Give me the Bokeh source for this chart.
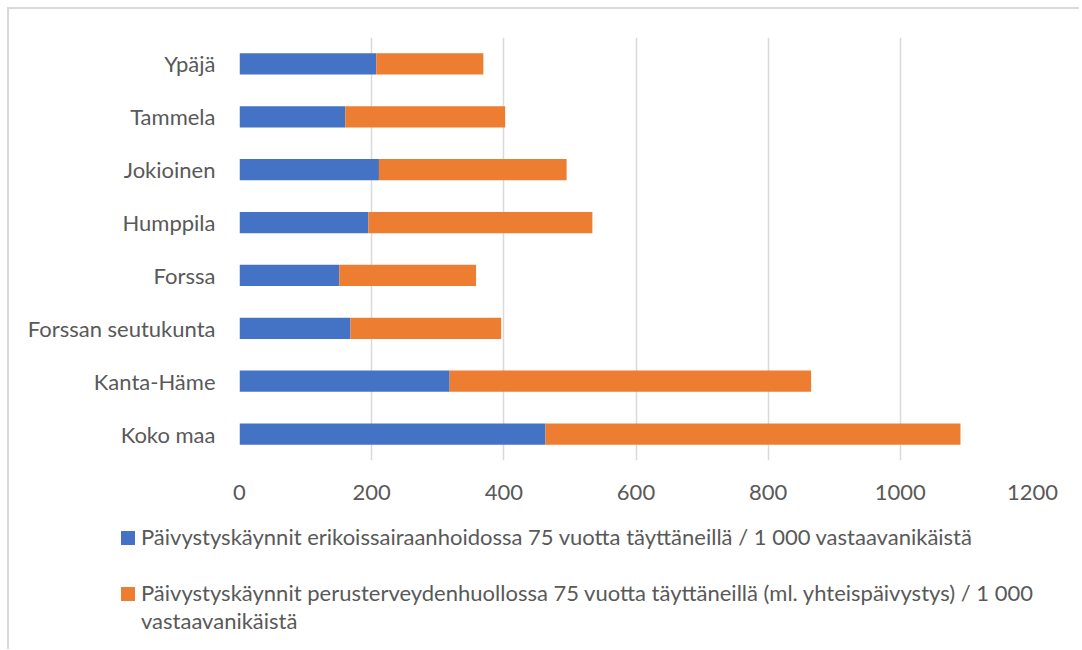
from bokeh.plotting import figure
from bokeh.models import FactorRange, Range1d, ColumnDataSource, FixedTicker, Div
from bokeh.layouts import column
from bokeh.embed import file_html
from bokeh.resources import INLINE

categories = ["Ypäjä", "Tammela", "Jokioinen", "Humppila", "Forssa",
              "Forssan seutukunta", "Kanta-Häme", "Koko maa"]
erikois = [207, 160, 211, 195, 151, 168, 318, 463]
perus = [162, 242, 284, 339, 207, 228, 547, 628]
x_ticks = [0, 200, 400, 600, 800, 1000, 1200]
series_labels = [
    "Päivystyskäynnit erikoissairaanhoidossa 75 vuotta täyttäneillä / 1 000 vastaavanikäistä",
    "Päivystyskäynnit perusterveydenhuollossa 75 vuotta täyttäneillä (ml. yhteispäivystys) / 1 000<br>vastaavanikäistä",
]
colors = ["#4472C4", "#ED7D31"]

FONT = "Lato"
FS = "22px"
TXT = "#595959"
GRID = "#d9d9d9"

src = ColumnDataSource(dict(cat=categories, erikois=erikois, perus=perus))

p = figure(
    y_range=FactorRange(factors=list(reversed(categories)), range_padding=0),
    x_range=Range1d(0, 1200),
    width=1060, height=500,
    output_backend="svg", toolbar_location=None,
    min_border_left=230, min_border_right=37,
    min_border_top=28, min_border_bottom=49,
)
p.outline_line_color = None
p.hbar_stack(["erikois", "perus"], y="cat", height=0.4, color=colors,
             source=src, line_color=None)

p.xaxis.ticker = FixedTicker(ticks=x_ticks)
p.xaxis.axis_line_color = None
p.xaxis.major_tick_line_color = None
p.xaxis.minor_tick_line_color = None
p.xaxis.major_tick_out = 0
p.xaxis.major_tick_in = 0
p.xaxis.major_label_standoff = 24
p.yaxis.axis_line_color = None
p.yaxis.major_tick_line_color = None
p.yaxis.minor_tick_line_color = None
p.yaxis.major_tick_out = 0
p.yaxis.major_tick_in = 0
p.yaxis.major_label_standoff = 24
for ax in (p.xaxis, p.yaxis):
    ax.major_label_text_font = FONT
    ax.major_label_text_font_size = FS
    ax.major_label_text_color = TXT
p.ygrid.grid_line_color = None
p.xgrid.grid_line_color = GRID
p.xgrid.grid_line_width = 1.5

legend_html = (
    f'<div style="position:relative;width:1060px;height:130px;font-family:{FONT};'
    f'font-size:{FS};color:{TXT};line-height:28px;">'
    f'<div style="position:absolute;left:107px;top:17px;width:14px;height:14px;background:{colors[0]}"></div>'
    f'<div style="position:absolute;left:127px;top:9px;white-space:nowrap">{series_labels[0]}</div>'
    f'<div style="position:absolute;left:107px;top:73px;width:14px;height:14px;background:{colors[1]}"></div>'
    f'<div style="position:absolute;left:127px;top:65px;white-space:nowrap">{series_labels[1]}</div>'
    '</div>'
)
legend = Div(text=legend_html, width=1060, height=130)

layout = column(p, legend, spacing=0,
                styles={"margin-left": "7px", "margin-top": "7px",
                        "border-left": "2px solid #d9d9d9",
                        "border-top": "2px solid #d9d9d9"})

open("out.html", "w").write(file_html(layout, INLINE))
